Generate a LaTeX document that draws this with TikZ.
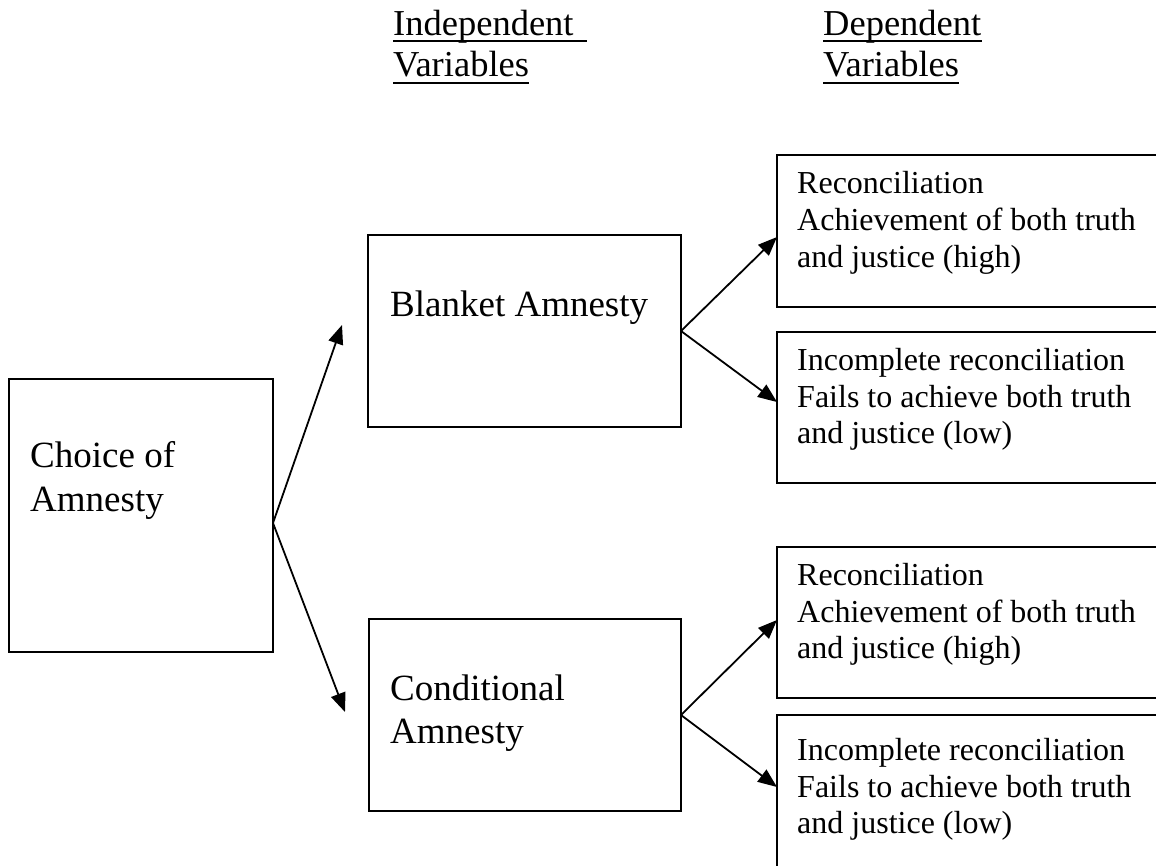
\documentclass[tikz,border=0pt]{standalone}
\usepackage{fontspec}
\setmainfont{Liberation Serif}
\usetikzlibrary{arrows.meta,calc}
\begin{document}
\begin{tikzpicture}[x=1pt,y=-1pt,
  box/.style={draw,line width=2pt,inner sep=0pt,outer sep=0pt,anchor=north west},
  big/.style={font=\fontsize{37}{44}\selectfont,inner sep=0pt,anchor=base west},
  small/.style={font=\fontsize{32}{37}\selectfont,inner sep=0pt,anchor=base west},
  head/.style={font=\fontsize{36.5}{41}\selectfont,inner sep=0pt,anchor=base west},
  arr/.style={line width=1.8pt,-{Triangle[length=19pt,width=15pt]}},
  uline/.style={line width=2pt}]
\useasboundingbox[fill=white] (0,0) rectangle (1156,865);

% headers
\node[head] (h1) at (393,35) {Independent};
\node[head] (h2) at (393,76) {Variables};
\node[head] (h3) at (823,35) {Dependent};
\node[head] (h4) at (823,76) {Variables};
\draw[uline] ($(h1.base west)+(0,6)$) -- ($(h1.base west)+(194,6)$);
\draw[uline] ($(h2.base west)+(0,7)$) -- ($(h2.base east)+(0,7)$);
\draw[uline] ($(h3.base west)+(0,6)$) -- ($(h3.base east)+(0,6)$);
\draw[uline] ($(h4.base west)+(0,7)$) -- ($(h4.base east)+(0,7)$);

% boxes
\node[box,minimum width=264pt,minimum height=273pt] (choice) at (9,379) {};
\node[box,minimum width=313pt,minimum height=192pt] (blanket) at (368,235) {};
\node[box,minimum width=312pt,minimum height=192pt] (cond) at (369,619) {};
\node[box,minimum width=400pt,minimum height=152pt] (r1) at (777,155) {};
\node[box,minimum width=400pt,minimum height=151pt] (r2) at (777,332) {};
\node[box,minimum width=400pt,minimum height=151pt] (r3) at (777,547) {};
\node[box,minimum width=400pt,minimum height=170pt] (r4) at (777,715) {};

% texts
\node[big] (t1) at (30,467) {Choice of};
\node[big] (t2) at (30,511) {Amnesty};
\node[big] (t3) at (390,316) {Blanket Amnesty};
\node[big] (t4) at (390,700) {Conditional};
\node[big] (t5) at (390,743) {Amnesty};

\node[small] (a1) at (797,193) {Reconciliation};
\node[small] (a2) at (797,230) {Achievement of both truth};
\node[small] (a3) at (797,267) {and justice (high)};
\node[small] (b1) at (797,370) {Incomplete reconciliation};
\node[small] (b2) at (797,407) {Fails to achieve both truth};
\node[small] (b3) at (797,443) {and justice (low)};
\node[small] (c1) at (797,585) {Reconciliation};
\node[small] (c2) at (797,622) {Achievement of both truth};
\node[small] (c3) at (797,658) {and justice (high)};
\node[small] (d1) at (797,760) {Incomplete reconciliation};
\node[small] (d2) at (797,797) {Fails to achieve both truth};
\node[small] (d3) at (797,833) {and justice (low)};

% connectors
\coordinate (ca) at ($(choice.east)+(0,7.5)$);
\coordinate (tb) at (342,325);
\coordinate (tc) at (345,712);
\draw[arr] (ca) -- (tb);
\draw[arr] (ca) -- (tc);
\draw[arr] (blanket.east) -- ($(r1.west)+(0,6)$);
\draw[arr] (blanket.east) -- ($(r2.west)+(0,-5.5)$);
\draw[arr] (cond.east) -- ($(r3.west)+(0,-2.5)$);
\draw[arr] (cond.east) -- ($(r4.west)+(0,-13)$);
\end{tikzpicture}
\end{document}
